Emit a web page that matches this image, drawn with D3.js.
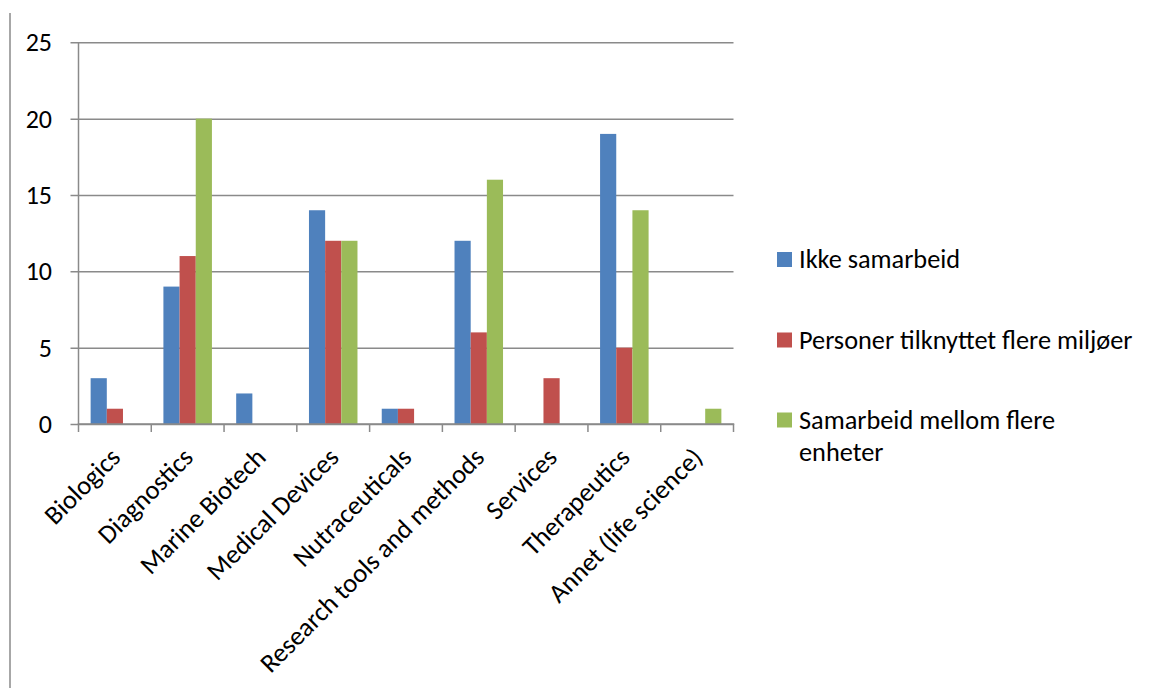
<!DOCTYPE html>
<html>
<head>
<meta charset="utf-8">
<script src="https://cdn.jsdelivr.net/npm/d3@7"></script>
<style>
  html, body { margin: 0; padding: 0; background: #fff; }
  svg { display: block; }
  text { font-family: Calibri, Carlito, Lato, "Open Sans", sans-serif; fill: #000; }
</style>
</head>
<body>
<svg id="chart" width="1159" height="688"></svg>
<script>
// Categories and series values
const categories = [
  "Biologics", "Diagnostics", "Marine Biotech", "Medical Devices", "Nutraceuticals",
  "Research tools and methods", "Services", "Therapeutics", "Annet (life science)"
];
const seriesNames = ["Ikke samarbeid", "Personer tilknyttet flere miljøer", "Samarbeid mellom flere enheter"];
const ikkeSamarbeid      = [3, 9, 2, 14, 1, 12, 0, 19, 0];
const personerTilknyttet = [1, 11, 0, 12, 1, 6, 3, 5, 0];
const samarbeidMellom    = [0, 20, 0, 12, 0, 16, 0, 14, 1];
const yTicks = [0, 5, 10, 15, 20, 25];

const colors = ["#4F81BD", "#C0504D", "#9BBB59"];
const seriesValues = [ikkeSamarbeid, personerTilknyttet, samarbeidMellom];

const svg = d3.select("#chart");
const plot = { left: 78.5, right: 733.5, top: 42.3, bottom: 424 };
const gridColor = "#8a8a8a";

// Outer frame line on the left
svg.append("line")
  .attr("x1", 10).attr("x2", 10).attr("y1", 13).attr("y2", 688)
  .attr("stroke", gridColor).attr("stroke-width", 1.5);

const x = d3.scaleBand().domain(categories).range([plot.left, plot.right]).paddingInner(0).paddingOuter(0);
const y = d3.scaleLinear().domain([0, 25]).range([plot.bottom, plot.top]);

// Gap width 150% of one bar: band = 3 bars + 1.5 bars
const barW = x.bandwidth() / 4.5;
const xs = d3.scaleBand().domain(d3.range(3)).range([0.75 * barW, 3.75 * barW]);

// Horizontal gridlines with left tick stubs
const yAxis = d3.axisLeft(y).tickValues(yTicks).tickSize(-(plot.right - plot.left)).tickFormat("");
const gy = svg.append("g").attr("transform", `translate(${plot.left},0)`).call(yAxis);
gy.select(".domain").remove();
gy.selectAll(".tick line").attr("stroke", gridColor).attr("stroke-width", 1.5).attr("x1", -8);

// Y tick labels
svg.append("g").selectAll("text").data(yTicks).join("text")
  .attr("x", 52).attr("y", d => y(d)).attr("dy", "0.35em")
  .attr("text-anchor", "end").attr("font-size", 26)
  .text(d => d);

// Y axis line
svg.append("line")
  .attr("x1", plot.left).attr("x2", plot.left).attr("y1", plot.top).attr("y2", plot.bottom)
  .attr("stroke", gridColor).attr("stroke-width", 1.5);

// Bars
categories.forEach((c, i) => {
  const g = svg.append("g").attr("transform", `translate(${x(c)},0)`);
  g.selectAll("rect").data(seriesValues.map((s, k) => ({ k, v: s[i] })).filter(d => d.v > 0)).join("rect")
    .attr("x", d => xs(d.k)).attr("width", xs.bandwidth())
    .attr("y", d => y(d.v)).attr("height", d => y(0) - y(d.v))
    .attr("fill", d => colors[d.k]);
});

// X axis with category boundary ticks
const xAxisG = svg.append("g");
xAxisG.append("line")
  .attr("x1", plot.left - 0.75).attr("x2", plot.right + 0.75).attr("y1", plot.bottom).attr("y2", plot.bottom)
  .attr("stroke", gridColor).attr("stroke-width", 1.5);
const edges = categories.map(c => x(c)).concat([plot.right]);
xAxisG.selectAll("line.tick").data(edges).join("line").attr("class", "tick")
  .attr("x1", d => d).attr("x2", d => d).attr("y1", plot.bottom).attr("y2", plot.bottom + 8)
  .attr("stroke", gridColor).attr("stroke-width", 1.5);

// Rotated category labels
svg.append("g").selectAll("text").data(categories).join("text")
  .attr("transform", d => `translate(${x(d) + x.bandwidth() / 2 + 7},${plot.bottom + 35}) rotate(-45)`)
  .attr("text-anchor", "end").attr("font-size", 26.5)
  .text(d => d);

// Legend
const legend = [
  { name: seriesNames[0], lines: ["Ikke samarbeid"], y: 252 },
  { name: seriesNames[1], lines: ["Personer tilknyttet flere miljøer"], y: 332.5 },
  { name: seriesNames[2], lines: ["Samarbeid mellom flere", "enheter"], y: 412.5 }
];
const lg = svg.append("g");
legend.forEach((d, i) => {
  lg.append("rect").attr("x", 777).attr("y", d.y).attr("width", 15).attr("height", 15).attr("fill", colors[i]);
  const t = lg.append("text").attr("x", 799).attr("y", d.y + 16).attr("font-size", 26.3);
  d.lines.forEach((ln, j) => t.append("tspan").attr("x", 799).attr("dy", j === 0 ? 0 : 32.5).text(ln));
});
</script>
</body>
</html>
